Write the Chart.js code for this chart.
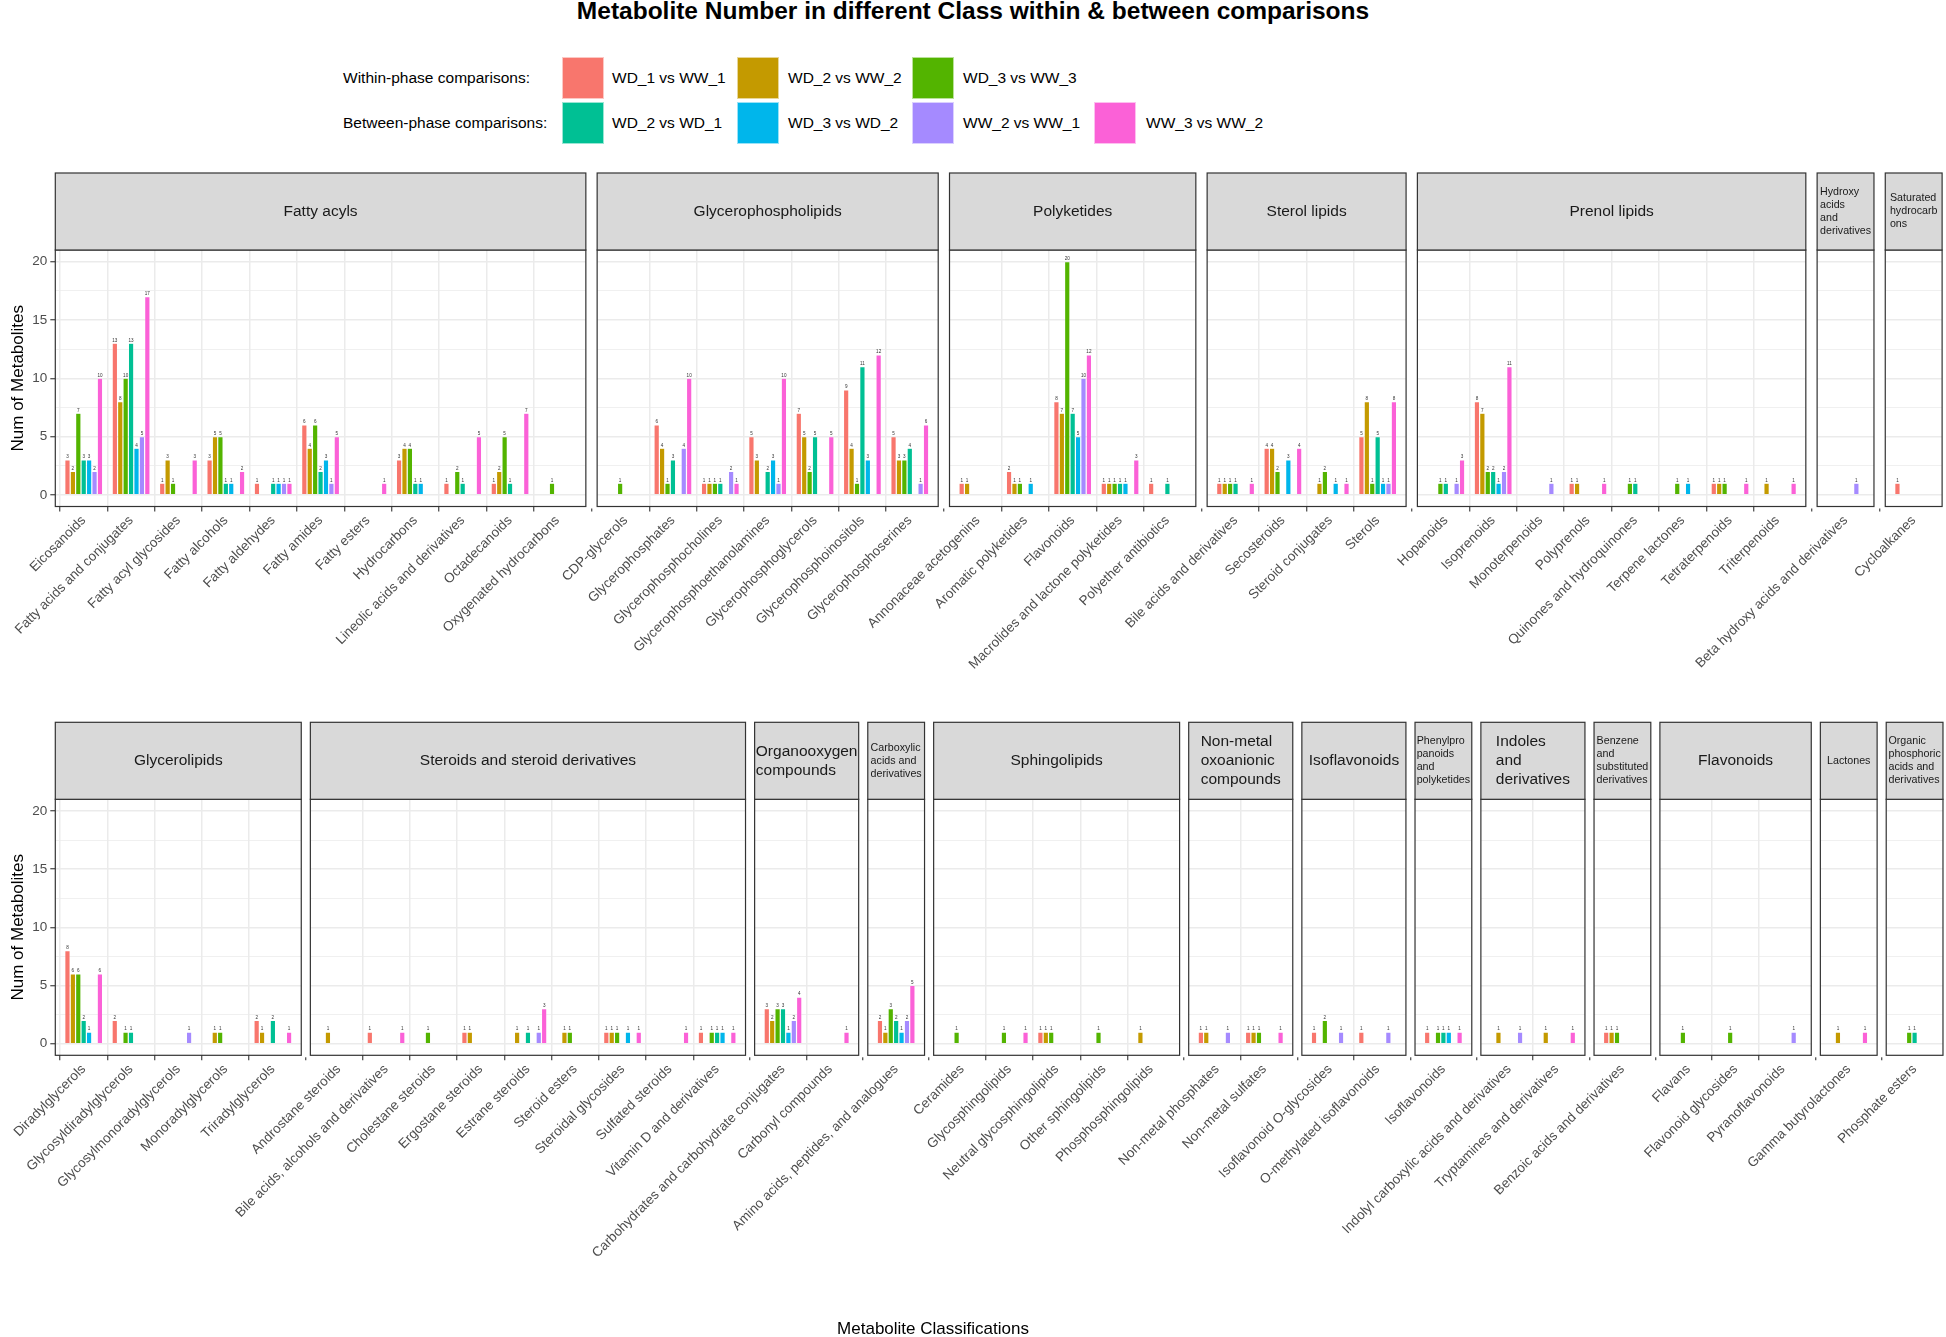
<!DOCTYPE html>
<html>
<head>
<meta charset="utf-8">
<script src="https://cdn.jsdelivr.net/npm/chart.js@4.4.1/dist/chart.umd.min.js"></script>
<style>
html,body{margin:0;padding:0;background:#fff;}
#page{position:relative;width:1946px;height:1337px;overflow:hidden;font-family:"Liberation Sans",Arial,sans-serif;background:#fff;}
canvas{position:absolute;left:0;}
.t{position:absolute;white-space:nowrap;line-height:1;transform:translateY(-50%);color:#000;}
.key{position:absolute;width:42px;height:42px;box-sizing:border-box;border:1px solid rgba(255,255,255,0.6);}
</style>
</head>
<body>
<div id="page">
  <canvas id="topChart"></canvas>
  <canvas id="bottomChart"></canvas>
  <div class="t" id="title" style="left:973px;top:11px;font-size:24.5px;font-weight:bold;transform:translate(-50%,-50%);">Metabolite Number in different Class within &amp; between comparisons</div>
  <div class="t" id="xtitle" style="left:933px;top:1328px;font-size:17px;transform:translate(-50%,-50%);">Metabolite Classifications</div>
  <div id="legend"></div>
</div>
<script>
// ---------------- DATA ----------------
const seriesNames = ['WD_1 vs WW_1','WD_2 vs WW_2','WD_3 vs WW_3','WD_2 vs WD_1','WD_3 vs WD_2','WW_2 vs WW_1','WW_3 vs WW_2'];
const seriesColors = ['#F8766D','#C49A00','#53B400','#00C094','#00B6EB','#A58AFF','#FB61D7'];
const legendGroups = ['Within-phase comparisons:','Between-phase comparisons:'];
const legendGroupSeries = [[0,1,2],[3,4,5,6]];
const yTickValues = [0,5,10,15,20];
const yGridValues = [0,2.5,5,7.5,10,12.5,15,17.5,20];

const topPanels = ['Fatty acyls','Glycerophospholipids','Polyketides','Sterol lipids','Prenol lipids','Hydroxy\nacids\nand\nderivatives','Saturated\nhydrocarb\nons'];
const topPanelSizes = [11,7,5,4,8,1,1];
const topCategories = [
 'Eicosanoids','Fatty acids and conjugates','Fatty acyl glycosides','Fatty alcohols','Fatty aldehydes','Fatty amides','Fatty esters','Hydrocarbons','Lineolic acids and derivatives','Octadecanoids','Oxygenated hydrocarbons',
 'CDP-glycerols','Glycerophosphates','Glycerophosphocholines','Glycerophosphoethanolamines','Glycerophosphoglycerols','Glycerophosphoinositols','Glycerophosphoserines',
 'Annonaceae acetogenins','Aromatic polyketides','Flavonoids','Macrolides and lactone polyketides','Polyether antibiotics',
 'Bile acids and derivatives','Secosteroids','Steroid conjugates','Sterols',
 'Hopanoids','Isoprenoids','Monoterpenoids','Polyprenols','Quinones and hydroquinones','Terpene lactones','Tetraterpenoids','Triterpenoids',
 'Beta hydroxy acids and derivatives',
 'Cycloalkanes'];
const top_WD1_WW1 = [3,13,1,3,1,6,0,3,1,1,0, 0,6,1,5,7,9,5, 1,2,8,1,1, 1,4,0,5, 0,8,0,1,0,0,1,0, 0, 1];
const top_WD2_WW2 = [2,8,3,5,0,4,0,4,0,2,0, 0,4,1,3,5,4,3, 1,1,7,1,0, 1,4,1,8, 0,7,0,1,0,0,1,1, 0, 0];
const top_WD3_WW3 = [7,10,1,5,0,6,0,4,2,5,1, 1,1,1,0,2,1,3, 0,1,20,1,0, 1,2,2,1, 1,2,0,0,1,1,1,0, 0, 0];
const top_WD2_WD1 = [3,13,0,1,1,2,0,1,1,1,0, 0,3,1,2,5,11,4, 0,0,7,1,1, 1,0,0,5, 1,2,0,0,1,0,0,0, 0, 0];
const top_WD3_WD2 = [3,4,0,1,1,3,0,1,0,0,0, 0,0,0,3,0,3,0, 0,1,5,1,0, 0,3,1,1, 0,1,0,0,0,1,0,0, 0, 0];
const top_WW2_WW1 = [2,5,0,0,1,1,0,0,0,0,0, 0,4,2,1,0,0,1, 0,0,10,0,0, 0,0,0,1, 1,2,1,0,0,0,0,0, 1, 0];
const top_WW3_WW2 = [10,17,3,2,1,5,1,0,5,7,0, 0,10,1,10,5,12,6, 0,0,12,3,0, 1,4,1,8, 3,11,0,1,0,0,1,1, 0, 0];

const bottomPanels = ['Glycerolipids','Steroids and steroid derivatives','Organooxygen\ncompounds','Carboxylic\nacids and\nderivatives','Sphingolipids','Non-metal\noxoanionic\ncompounds','Isoflavonoids','Phenylpro\npanoids\nand\npolyketides','Indoles\nand\nderivatives','Benzene\nand\nsubstituted\nderivatives','Flavonoids','Lactones','Organic\nphosphoric\nacids and\nderivatives'];
const bottomPanelSizes = [5,9,2,1,5,2,2,1,2,1,3,1,1];
const bottomCategories = [
 'Diradylglycerols','Glycosyldiradylglycerols','Glycosylmonoradylglycerols','Monoradylglycerols','Triradylglycerols',
 'Androstane steroids','Bile acids, alcohols and derivatives','Cholestane steroids','Ergostane steroids','Estrane steroids','Steroid esters','Steroidal glycosides','Sulfated steroids','Vitamin D and derivatives',
 'Carbohydrates and carbohydrate conjugates','Carbonyl compounds',
 'Amino acids, peptides, and analogues',
 'Ceramides','Glycosphingolipids','Neutral glycosphingolipids','Other sphingolipids','Phosphosphingolipids',
 'Non-metal phosphates','Non-metal sulfates',
 'Isoflavonoid O-glycosides','O-methylated isoflavonoids',
 'Isoflavonoids',
 'Indolyl carboxylic acids and derivatives','Tryptamines and derivatives',
 'Benzoic acids and derivatives',
 'Flavans','Flavonoid glycosides','Pyranoflavonoids',
 'Gamma butyrolactones',
 'Phosphate esters'];
const bot_WD1_WW1 = [8,2,0,0,2, 0,1,0,1,0,0,1,0,1, 3,0, 2, 0,0,1,0,0, 1,1, 1,1, 1, 0,0, 1, 0,0,0, 0, 0];
const bot_WD2_WW2 = [6,0,0,1,1, 1,0,0,1,1,1,1,0,0, 2,0, 1, 0,0,1,0,1, 1,1, 0,0, 0, 1,1, 1, 0,0,0, 1, 0];
const bot_WD3_WW3 = [6,1,0,1,0, 0,0,1,0,0,1,1,0,1, 3,0, 3, 1,1,1,1,0, 0,1, 2,0, 1, 0,0, 1, 1,1,0, 0, 1];
const bot_WD2_WD1 = [2,1,0,0,2, 0,0,0,0,1,0,0,0,1, 3,0, 2, 0,0,0,0,0, 0,0, 0,0, 1, 0,0, 0, 0,0,0, 0, 1];
const bot_WD3_WD2 = [1,0,0,0,0, 0,0,0,0,0,0,1,0,1, 1,0, 1, 0,0,0,0,0, 0,0, 0,0, 1, 0,0, 0, 0,0,0, 0, 0];
const bot_WW2_WW1 = [0,0,1,0,0, 0,0,0,0,1,0,0,0,0, 2,0, 2, 0,0,0,0,0, 1,0, 1,1, 0, 1,0, 0, 0,0,1, 0, 0];
const bot_WW3_WW2 = [6,0,0,0,1, 0,1,0,0,3,0,1,1,1, 4,1, 5, 0,1,0,0,0, 0,1, 0,0, 1, 0,1, 0, 0,0,0, 1, 0];

// ---------------- LAYOUT ----------------
const FONT = '"Liberation Sans", Arial, sans-serif';
const PAGE_W = 1946;
const LEFT = 55.3;

function buildRow(panels, sizes, gapPx, unit){
  const gapU = gapPx / unit;
  let s = 0; const pan = []; const xs = [];
  sizes.forEach((n, i) => {
    pan.push({start: s, end: s + n + 0.2, name: panels[i], small: n === 1});
    for (let j = 0; j < n; j++) xs.push(s + 0.6 + j);
    s += n + 0.2 + gapU;
  });
  return {pan, xs, total: s - gapU};
}

function facetPlugin(row){
  return {
    id: 'facets',
    beforeDatasetsDraw(chart){
      const {ctx, chartArea: a} = chart; const xs = chart.scales.x;
      ctx.save(); ctx.fillStyle = '#ffffff';
      for (let i = 0; i < row.pan.length - 1; i++){
        const x0 = xs.getPixelForValue(row.pan[i].end), x1 = xs.getPixelForValue(row.pan[i+1].start);
        ctx.fillRect(x0, a.top - 2, x1 - x0, a.bottom - a.top + 4);
      }
      ctx.restore();
    },
    afterDatasetsDraw(chart){
      const ctx = chart.ctx;
      ctx.save();
      ctx.font = '4.6px ' + FONT; ctx.fillStyle = '#333333';
      ctx.textAlign = 'center'; ctx.textBaseline = 'bottom';
      chart.data.datasets.forEach((ds, k) => {
        const meta = chart.getDatasetMeta(k);
        meta.data.forEach((el, i) => {
          const v = ds.data[i].y;
          if (v === null || v === undefined) return;
          ctx.fillText(String(v), el.x, el.y - 0.6);
        });
      });
      ctx.restore();
    },
    afterDraw(chart){
      const {ctx, chartArea: a} = chart; const xs = chart.scales.x;
      const stripH = 77;
      ctx.save();
      row.pan.forEach(p => {
        const x0 = xs.getPixelForValue(p.start), x1 = xs.getPixelForValue(p.end);
        ctx.strokeStyle = '#333333'; ctx.lineWidth = 1.2;
        ctx.strokeRect(x0, a.top, x1 - x0, a.bottom - a.top);
        const y0 = a.top - stripH;
        ctx.fillStyle = '#D9D9D9';
        ctx.fillRect(x0, y0, x1 - x0, stripH);
        ctx.strokeRect(x0, y0, x1 - x0, stripH);
        const size = p.small ? 10.7 : 15.5, lh = p.small ? 13 : 19;
        ctx.font = size + 'px ' + FONT; ctx.fillStyle = '#1A1A1A';
        ctx.textAlign = 'left'; ctx.textBaseline = 'middle';
        const lines = p.name.split('\n');
        const w = Math.max(...lines.map(l => ctx.measureText(l).width));
        const bx = (x0 + x1) / 2 - w / 2;
        const cy = y0 + stripH / 2 - (lines.length - 1) * lh / 2;
        lines.forEach((l, k) => ctx.fillText(l, bx, cy + k * lh));
      });
      ctx.restore();
    }
  };
}

function makeChart(id, top, height, chartTop, chartBottom, panels, sizes, cats, series, unit, gap){
  const row = buildRow(panels, sizes, gap, unit);
  const canvas = document.getElementById(id);
  canvas.width = PAGE_W; canvas.height = height;
  canvas.style.width = PAGE_W + 'px'; canvas.style.height = height + 'px';
  canvas.style.top = top + 'px';
  const padTop = chartTop - top;
  const axisH = (top + height) - chartBottom;
  const padRight = PAGE_W - LEFT - row.total * unit;
  return new Chart(canvas, {
    type: 'bar',
    data: {
      datasets: series.map((vals, k) => ({
        label: seriesNames[k],
        data: row.xs.map((x, i) => ({x: x, y: vals[i] ? vals[i] : null})),
        backgroundColor: seriesColors[k],
        borderColor: 'rgba(255,255,255,0.45)',
        borderWidth: 0.6,
        categoryPercentage: 0.8,
        barPercentage: 1
      }))
    },
    options: {
      responsive: false, animation: false, devicePixelRatio: 1,
      layout: {padding: {top: padTop, left: 0, right: padRight, bottom: 0}},
      plugins: {legend: {display: false}, tooltip: {enabled: false}},
      scales: {
        x: {
          type: 'linear', min: 0, max: row.total, bounds: 'data', offset: false,
          afterBuildTicks: s => { s.ticks = row.xs.map(v => ({value: v})); },
          ticks: {autoSkip: false, minRotation: 45, maxRotation: 45, padding: 1, color: '#4D4D4D',
                  font: {family: FONT, size: 13.5}, callback: (v, i) => cats[i]},
          grid: {color: '#EBEBEB', lineWidth: 1.5, tickColor: '#333333', tickLength: 5, tickWidth: 1.1},
          border: {display: false},
          afterFit: s => { s.height = axisH; s.paddingLeft = 0; s.paddingRight = 0; }
        },
        y: {
          min: -1, max: 21, bounds: 'data',
          afterBuildTicks: s => { s.ticks = yGridValues.map(v => ({value: v})); },
          ticks: {autoSkip: false, color: '#4D4D4D', padding: 3, font: {family: FONT, size: 13.5},
                  callback: v => (yTickValues.includes(v) ? String(v) : '')},
          grid: {color: '#EBEBEB',
                 lineWidth: c => (c.tick && yTickValues.includes(c.tick.value)) ? 1.5 : 0.75,
                 tickColor: c => (c.tick && yTickValues.includes(c.tick.value)) ? '#333333' : 'rgba(0,0,0,0)',
                 tickLength: 5, tickWidth: 1.1},
          border: {display: false},
          title: {display: true, text: 'Num of Metabolites', color: '#000000',
                  font: {family: FONT, size: 17}, padding: {top: 8, bottom: 0}},
          afterFit: s => { s.width = LEFT; }
        }
      }
    },
    plugins: [facetPlugin(row)]
  });
}

// legend (HTML)
(function(){
  const lg = document.getElementById('legend');
  const rowsY = [78, 123];
  const keyX = [562, 737, 912, 1094];
  const textX = [612, 788, 963, 1146];
  legendGroups.forEach((g, r) => {
    const t = document.createElement('div');
    t.className = 't'; t.style.left = '343px'; t.style.top = rowsY[r] + 'px'; t.style.fontSize = '15.5px';
    t.textContent = g; lg.appendChild(t);
    legendGroupSeries[r].forEach((si, c) => {
      const k = document.createElement('div');
      k.className = 'key'; k.style.left = keyX[c] + 'px'; k.style.top = (rowsY[r] - 21) + 'px';
      k.style.background = seriesColors[si]; lg.appendChild(k);
      const l = document.createElement('div');
      l.className = 't'; l.style.left = textX[c] + 'px'; l.style.top = rowsY[r] + 'px'; l.style.fontSize = '15.5px';
      l.textContent = seriesNames[si]; lg.appendChild(l);
    });
  });
})();

makeChart('topChart', 160, 540, 250, 506.5, topPanels, topPanelSizes, topCategories,
  [top_WD1_WW1, top_WD2_WW2, top_WD3_WW3, top_WD2_WD1, top_WD3_WD2, top_WW2_WW1, top_WW3_WW2], 47.37, 11.3);
makeChart('bottomChart', 700, 637, 799.3, 1055.3, bottomPanels, bottomPanelSizes, bottomCategories,
  [bot_WD1_WW1, bot_WD2_WW2, bot_WD3_WW3, bot_WD2_WD1, bot_WD3_WD2, bot_WW2_WW1, bot_WW3_WW2], 47.3, 9.1);
</script>
</body>
</html>
